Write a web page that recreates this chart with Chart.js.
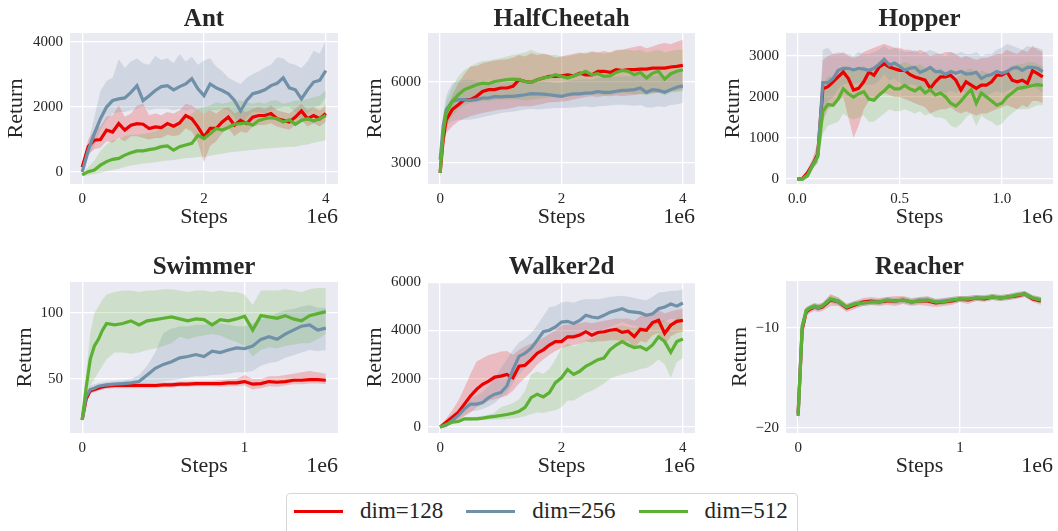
<!DOCTYPE html>
<html>
<head>
<meta charset="utf-8">
<script src="https://cdn.jsdelivr.net/npm/chart.js@4.4.1/dist/chart.umd.min.js"></script>
<style>
body { margin: 0; background: #fff; width: 1058px; height: 531px; position: relative; overflow: hidden;
       font-family: "Liberation Serif", "Times New Roman", serif; }
canvas { position: absolute; }
#legend { position: absolute; left: 286px; top: 493px; width: 512px; height: 50px; box-sizing: border-box;
          border: 1px solid #d6d6d6; border-radius: 4px; background: #fff; }
#legend .row { position: absolute; left: 7px; top: 5px; height: 24px; display: flex; align-items: center; }
#legend .item { display: flex; align-items: center; margin-right: 23px; }
#legend .swatch { width: 49px; height: 3px; margin-right: 17px; }
#legend .label { font-size: 23px; line-height: 24px; color: #262626; white-space: nowrap; }
</style>
</head>
<body>
<div id="legend"><div class="row" id="legendRow"></div></div>
<script>
/* =========================
   DATA
========================= */
const seriesNames = ['dim=128', 'dim=256', 'dim=512'];
const seriesColors = ['#ec0000', '#7090a8', '#5cb133'];
const bandColors = ['rgba(236,0,0,0.2)', 'rgba(112,144,168,0.22)', 'rgba(92,177,51,0.2)'];

// --- Ant ---
const antSteps = [0,0.1,0.2,0.3,0.4,0.5,0.6,0.7,0.8,0.9,1.0,1.1,1.2,1.3,1.4,1.5,1.6,1.7,1.8,1.9,2.0,2.1,2.2,2.3,2.4,2.5,2.6,2.7,2.8,2.9,3.0,3.1,3.2,3.3,3.4,3.5,3.6,3.7,3.8,3.9,4.0];
const antRed = [150,780,980,1000,1290,1230,1490,1290,1440,1490,1470,1340,1390,1370,1490,1410,1510,1740,1640,1390,1080,1340,1340,1540,1690,1440,1590,1490,1690,1740,1740,1800,1640,1590,1540,1690,1880,1640,1740,1640,1800];
const antRedHi = [250,1000,1300,1400,1700,1750,2050,1700,1800,2050,2100,1750,1800,1750,1850,1800,1900,2100,2050,1900,1800,1900,1800,1950,2000,1800,1900,1850,1950,2000,1950,2050,1900,1850,1800,1950,2100,1900,2000,1900,2050];
const antRedLo = [50,550,700,750,950,900,1050,950,1100,1100,1050,1000,1050,1050,1150,1100,1150,1350,1250,900,300,800,950,1200,1350,1100,1250,1200,1400,1450,1450,1500,1400,1350,1300,1450,1600,1400,1500,1400,1550];
const antBlue = [0,670,1180,1640,2000,2200,2250,2280,2450,2660,2200,2350,2510,2630,2660,2530,2630,2710,2870,2560,2350,2710,2590,2510,2410,2200,1880,2200,2410,2460,2530,2660,2730,2900,2590,2530,2250,2530,2770,2820,3120];
const antBlueHi = [100,900,1700,2500,2800,2900,3480,3200,3400,3500,3350,3300,3580,3450,3500,3350,3630,3400,3550,3300,3430,3500,3250,3100,2900,2800,2710,2900,3020,3100,3220,3300,3530,3500,3350,3300,3200,3400,3730,3650,4040];
const antBlueLo = [-100,450,800,1290,1600,1800,1850,1850,1900,1950,2000,1900,1950,1950,1950,1900,1950,1900,1950,1900,1800,1900,1900,1950,1900,1700,1390,1700,1850,1850,1800,1900,1950,2000,2000,1850,1590,1800,2000,2050,2300];
const antGreen = [-90,10,60,210,320,390,420,520,590,650,650,690,720,780,800,670,780,830,880,1130,1030,1180,1340,1290,1370,1470,1490,1510,1440,1590,1640,1670,1640,1540,1610,1470,1590,1640,1570,1640,1740];
const antGreenHi = [-50,150,350,650,850,980,1000,1100,1150,1150,1180,1200,1250,1350,1400,1390,1500,1650,1800,1950,2000,2050,2150,2100,2150,2200,2200,2150,2100,2150,2100,2200,2200,2100,2150,2200,2200,2250,2300,2350,2510];
const antGreenLo = [-130,-100,-60,-20,20,60,100,150,200,230,265,280,300,330,350,370,400,420,440,460,470,500,540,560,600,620,640,660,680,700,720,730,750,760,770,780,820,850,900,940,980];
const antXTicks = [0, 2, 4];
const antXLabels = ['0', '2', '4'];
const antYTicks = [0, 2000, 4000];
const antYLabels = ['0', '2000', '4000'];

// --- HalfCheetah ---
const hcSteps = [0,0.05,0.1,0.2,0.3,0.4,0.5,0.6,0.7,0.8,0.9,1.0,1.1,1.2,1.3,1.4,1.5,1.6,1.7,1.8,1.9,2.0,2.1,2.2,2.3,2.4,2.5,2.6,2.7,2.8,2.9,3.0,3.1,3.2,3.3,3.4,3.5,3.6,3.7,3.8,3.9,4.0];
const hcRed = [2630,3860,4600,4980,5160,5350,5350,5470,5650,5720,5720,5780,5780,5840,6090,6020,5990,6090,6150,6210,6210,6230,6270,6230,6330,6270,6270,6400,6400,6360,6460,6430,6460,6460,6480,6480,6520,6520,6520,6560,6580,6620];
const hcRedHi = [2800,4200,5000,5500,5960,6300,6580,6600,6700,6750,6800,6830,6850,6900,7000,6950,7070,7000,7050,7000,6900,6950,7000,7050,7100,7050,7140,7100,7150,7100,7200,7200,7250,7300,7350,7250,7320,7400,7450,7400,7500,7570];
const hcRedLo = [2450,3500,4100,4360,4550,4650,4730,4800,4850,4900,4950,4980,5000,5050,5100,5100,5100,5150,5200,5250,5250,5280,5300,5350,5400,5450,5470,5450,5480,5470,5500,5470,5500,5520,5550,5560,5590,5600,5620,5650,5680,5720];
const hcBlue = [3120,4360,4980,5280,5350,5350,5320,5350,5410,5410,5470,5450,5470,5470,5500,5530,5570,5560,5550,5530,5500,5470,5530,5560,5560,5590,5600,5650,5620,5620,5660,5690,5700,5720,5780,5620,5720,5690,5620,5720,5810,5860];
const hcBlueHi = [3300,4800,5500,5960,6050,6080,6090,6050,6000,5980,5970,5960,6000,6000,6050,6080,6090,6050,6030,6000,5970,5960,6030,6080,6090,6100,6090,6150,6150,6180,6200,6210,6220,6250,6300,6200,6210,6250,6200,6280,6350,6400];
const hcBlueLo = [2950,3900,4400,4550,4600,4600,4600,4650,4700,4750,4800,4850,4880,4900,4950,4980,5000,4980,5000,5020,5040,5040,5050,5060,5080,5100,5060,5100,5110,5130,5160,5160,5140,5120,5150,5060,5060,5100,5080,5150,5180,5220];
const hcGreen = [2630,4110,4850,5280,5530,5720,5810,5900,5960,5940,6020,6060,6090,6110,6090,6020,5990,6090,6150,6190,6270,6210,6150,6230,6310,6400,6270,6310,6210,6230,6360,6430,6400,6270,6360,6150,6330,6400,6110,6310,6400,6460];
const hcGreenHi = [2800,4500,5300,5800,6210,6450,6580,6700,6780,6800,6850,6890,6950,7000,7050,7100,7200,7100,7050,7000,7000,6950,6950,7000,7050,7100,7100,7100,7050,7100,7150,7200,7200,7150,7200,7100,7150,7200,7100,7150,7200,7200];
const hcGreenLo = [2450,3700,4400,4750,4980,5150,5220,5270,5300,5300,5330,5350,5350,5360,5350,5330,5350,5380,5400,5430,5450,5470,5450,5480,5500,5560,5530,5550,5500,5520,5560,5590,5580,5560,5580,5500,5580,5600,5500,5600,5630,5650];
const hcXTicks = [0, 2, 4];
const hcXLabels = ['0', '2', '4'];
const hcYTicks = [3000, 6000];
const hcYLabels = ['3000', '6000'];

// --- Hopper ---
const hopSteps = [0,0.025,0.05,0.075,0.1,0.125,0.15,0.175,0.2,0.225,0.25,0.275,0.3,0.325,0.35,0.375,0.4,0.425,0.45,0.475,0.5,0.525,0.55,0.575,0.6,0.625,0.65,0.675,0.7,0.725,0.75,0.775,0.8,0.825,0.85,0.875,0.9,0.925,0.95,0.975,1.0,1.025,1.05,1.075,1.1,1.125,1.15,1.175,1.2];
const hopRed = [0,10,150,350,600,2200,2250,2370,2490,2610,2450,2170,2210,2370,2610,2530,2730,2810,2730,2690,2650,2650,2550,2490,2450,2410,2210,2370,2490,2490,2530,2410,2170,2370,2290,2210,2290,2290,2370,2530,2530,2610,2410,2370,2410,2330,2640,2570,2490];
const hopRedHi = [0,30,250,500,900,2900,3000,3050,3050,3100,3000,2950,3000,3100,3150,3200,3250,3300,3250,3200,3200,3150,3150,3100,3150,3100,3000,3050,3050,3100,3100,3050,2950,3000,2950,2900,2950,2950,3000,3050,3050,3150,3100,3050,3150,3100,3250,3150,3100];
const hopRedLo = [0,0,80,250,400,1400,1700,1800,1900,2000,1500,1000,1300,1700,1900,1950,2000,2100,2050,2000,2000,1950,1900,1850,1800,1750,1600,1650,1700,1700,1750,1650,1600,1650,1600,1550,1600,1600,1650,1700,1750,1800,1750,1700,1800,1750,1900,1900,1850];
const hopBlue = [0,0,100,330,550,2350,2350,2450,2650,2700,2700,2660,2700,2680,2650,2700,2800,2920,2780,2830,2750,2650,2700,2720,2600,2650,2720,2620,2620,2550,2620,2580,2620,2560,2570,2600,2450,2520,2550,2620,2580,2620,2700,2720,2650,2720,2720,2700,2620];
const hopBlueHi = [0,20,200,450,800,3150,3200,3050,3100,3050,3050,3000,3100,3050,3050,3100,3150,3250,3150,3200,3150,3100,3100,3150,3050,3100,3150,3100,3050,3000,3100,3050,3100,3050,3050,3100,3000,3050,3050,3150,3200,3300,3250,3200,3150,3250,3200,3200,3150];
const hopBlueLo = [0,0,50,250,400,1600,1900,2000,2200,2300,2350,2300,2350,2300,2300,2300,2400,2550,2400,2450,2350,2250,2300,2300,2200,2200,2250,2150,2150,2100,2150,2100,2150,2100,2100,2100,2000,2050,2100,2150,2100,2150,2200,2250,2150,2200,2250,2200,2100];
const hopGreen = [0,0,80,330,550,1650,1820,1800,1950,2200,2080,2000,2080,2130,1950,1920,2050,2150,2280,2200,2200,2280,2200,2150,2230,2100,2180,2050,2100,2000,1850,1780,1900,2050,2180,1850,2100,2000,1900,1800,1850,2000,2100,2200,2230,2250,2280,2300,2280];
const hopGreenHi = [0,20,180,450,800,2300,2500,2500,2600,2750,2700,2650,2700,2750,2650,2650,2700,2800,2850,2800,2800,2850,2800,2750,2800,2700,2750,2650,2700,2600,2500,2450,2550,2650,2700,2500,2650,2600,2550,2450,2500,2650,2750,2800,2800,2850,2850,2800,2750];
const hopGreenLo = [0,0,30,250,400,1100,1300,1350,1400,1600,1500,1450,1500,1550,1400,1400,1500,1600,1700,1650,1650,1700,1650,1600,1650,1550,1600,1500,1500,1450,1300,1250,1350,1500,1600,1300,1550,1450,1400,1300,1350,1500,1600,1700,1700,1700,1750,1800,1800];
const hopXTicks = [0, 0.5, 1.0];
const hopXLabels = ['0.0', '0.5', '1.0'];
const hopYTicks = [0, 1000, 2000, 3000];
const hopYLabels = ['0', '1000', '2000', '3000'];

// --- Swimmer ---
const swimSteps = [0,0.025,0.05,0.075,0.1,0.125,0.15,0.2,0.25,0.3,0.35,0.4,0.45,0.5,0.55,0.6,0.65,0.7,0.75,0.8,0.85,0.9,0.95,1.0,1.05,1.1,1.15,1.2,1.25,1.3,1.35,1.4,1.45,1.5];
const swimRed = [19,35,41,42,43,44,44.5,45,45,45,45,45,45,45.5,45.5,46,46,46.5,46.5,46.5,46.5,47,47,48,46,46.5,48,47.5,48,49,49,49.5,49.5,49];
const swimRedHi = [21,38,43,44,45,46,46.5,47,47,47,47,47,47,47.5,47.5,48,48,48.5,48.5,48.5,49,49.5,50,53,50,50,52,52,53,54,55,56,55,54];
const swimRedLo = [17,32,39,40,41,42,42.5,43,43,43,43,43,43,43.5,43.5,44,44,44.5,44.5,44.5,44,44.5,44.5,45,42,43,44.5,44,45,46,46,46.5,46.5,46];
const swimBlue = [19,37,42,43,44.5,45,45.5,46,46.5,47,48,53,58,61,63,66,67,68.5,67,71,70,72,73.5,73,75,80,82,80,84,87,90,91,87,88.5];
const swimBlueHi = [21,40,45,46,47,47.5,48,48.5,49,50,53,60,70,85,88,90,90,91,91,92,92,91,90,90,92,95,97,100,102,103,105,106,104,104];
const swimBlueLo = [17,34,39,40,42,43,43.5,44,44.5,45,45,46,47,48,49,50,51,52,52,53,53,54,55,55,56,60,62,63,66,68,70,72,71,72];
const swimGreen = [19,44,65,75,80,87,92,91,92,94,91,94,95,96,97,95.5,94,95.5,95,91,95,94,95.5,97.5,87,98,97,96,98,95.5,94,98,99.5,101];
const swimGreenHi = [21,55,85,100,105,110,114,116,117,117,116,117,117,118,118,117,116,117,117,116,117,116,116,114,106,117,117,117,118,117,116,118,119,119];
const swimGreenLo = [17,35,45,50,55,60,65,70,70,69,70,72,73,75,77,82,80,82,83,84,83,80,78,75,67,72,74,73,75,76,77,77,80,84];
const swimXTicks = [0, 1];
const swimXLabels = ['0', '1'];
const swimYTicks = [50, 100];
const swimYLabels = ['50', '100'];

// --- Walker2d ---
const walkSteps = [0,0.1,0.2,0.3,0.4,0.5,0.6,0.7,0.8,0.9,1.0,1.1,1.2,1.3,1.4,1.5,1.6,1.7,1.8,1.9,2.0,2.1,2.2,2.3,2.4,2.5,2.6,2.7,2.8,2.9,3.0,3.1,3.2,3.3,3.4,3.5,3.6,3.7,3.8,3.9,4.0];
const walkRed = [0,200,410,610,950,1290,1560,1770,1900,2070,2110,2180,2040,2520,2560,2790,3060,3200,3400,3540,3540,3740,3740,3810,3950,3810,3920,3950,4010,4050,3920,3970,3740,4050,4010,4330,4420,3880,4220,4380,4420];
const walkRedHi = [50,350,700,1100,1630,2200,2720,2850,2990,3050,3130,3150,3000,3200,3350,3450,3550,3700,3850,4000,4220,4250,4250,4300,4350,4300,4350,4400,4450,4500,4490,4500,4400,4600,4650,4760,4850,4700,4800,4850,4900];
const walkRedLo = [-50,100,200,300,450,600,820,950,1090,1150,1220,1300,1500,1800,2040,2300,2590,2800,3000,3150,3270,3350,3400,3450,3550,3500,3550,3550,3600,3600,3550,3550,3300,3550,3500,3800,3900,3400,3750,3900,3950];
const walkBlue = [0,70,270,480,750,950,950,1020,1220,1360,1430,1700,2380,2930,3060,3270,3600,3950,4010,4150,4350,4380,4290,4420,4630,4560,4520,4630,4760,4830,4900,4790,4760,4730,4630,4690,4900,4970,5100,5010,5140];
const walkBlueHi = [50,150,400,700,1000,1200,1300,1450,1700,2000,2450,2800,3200,3500,3670,3900,4220,4600,4970,5000,5170,5200,5150,5250,5310,5300,5300,5350,5400,5420,5440,5400,5350,5300,5250,5400,5580,5600,5650,5650,5710];
const walkBlueLo = [-50,0,150,300,500,650,680,750,850,1000,1220,1400,1800,2200,2450,2700,2990,3200,3400,3500,3540,3650,3700,3800,3950,3950,3950,4050,4150,4250,4350,4250,4200,4150,4050,4150,4300,4350,4500,4450,4630];
const walkGreen = [0,110,200,230,340,340,340,370,410,440,480,520,570,650,820,1220,1360,1250,1430,1840,2040,2380,2180,2310,2520,2650,2790,2860,3200,3400,3540,3400,3290,3330,3200,3400,3740,3540,3100,3540,3650];
const walkGreenHi = [30,150,250,300,400,420,430,470,520,600,820,900,1000,1150,1500,2180,2300,2200,2400,2800,3270,3450,3350,3450,3600,3670,3800,3900,4000,4150,4220,4150,4100,4150,4100,4250,4450,4400,4300,4500,4630];
const walkGreenLo = [-30,60,150,170,250,260,270,280,300,310,320,330,360,400,450,540,600,580,650,700,820,1100,1100,1250,1400,1500,1650,1800,2000,2100,2180,2250,2300,2400,2450,2590,2800,2600,2040,2700,2860];
const walkXTicks = [0, 2, 4];
const walkXLabels = ['0', '2', '4'];
const walkYTicks = [0, 2000, 4000, 6000];
const walkYLabels = ['0', '2000', '4000', '6000'];

// --- Reacher ---
const reachSteps = [0,0.025,0.05,0.075,0.1,0.125,0.15,0.2,0.25,0.3,0.35,0.4,0.45,0.5,0.55,0.6,0.65,0.7,0.75,0.8,0.85,0.9,0.95,1.0,1.05,1.1,1.15,1.2,1.25,1.3,1.35,1.4,1.45,1.5];
const reachRed = [-18.5,-10.2,-8.4,-8.1,-7.9,-8.0,-7.9,-7.2,-7.4,-8.0,-7.7,-7.4,-7.3,-7.4,-7.3,-7.3,-7.2,-7.4,-7.3,-7.3,-7.5,-7.4,-7.3,-7.1,-7.2,-7.0,-7.1,-6.9,-7.0,-6.9,-6.8,-6.6,-7.1,-7.3];
const reachRedHi = [-17.5,-9.5,-8.0,-7.7,-7.5,-7.6,-7.5,-6.6,-7.0,-7.6,-7.3,-7.0,-6.9,-7.0,-6.9,-6.8,-6.8,-7.0,-6.9,-6.8,-7.1,-7.0,-6.9,-6.8,-6.8,-6.7,-6.8,-6.6,-6.7,-6.6,-6.5,-6.3,-6.8,-6.9];
const reachRedLo = [-19.5,-11.0,-8.8,-8.5,-8.3,-8.4,-8.3,-7.8,-7.8,-8.4,-8.1,-7.8,-7.7,-7.8,-7.7,-7.8,-7.6,-7.8,-7.7,-7.8,-7.9,-7.8,-7.7,-7.4,-7.6,-7.3,-7.4,-7.2,-7.3,-7.2,-7.1,-6.9,-7.4,-7.7];
const reachBlue = [-18.7,-10.0,-8.3,-8.0,-7.9,-8.0,-7.8,-7.1,-7.4,-7.9,-7.6,-7.5,-7.4,-7.4,-7.2,-7.3,-7.2,-7.4,-7.2,-7.2,-7.4,-7.3,-7.2,-7.1,-7.1,-7.0,-7.0,-6.9,-7.0,-6.9,-6.7,-6.6,-7.0,-7.2];
const reachBlueHi = [-17.8,-9.4,-7.9,-7.7,-7.6,-7.7,-7.5,-6.8,-7.1,-7.6,-7.3,-7.2,-7.1,-7.1,-6.9,-7.0,-6.9,-7.1,-6.9,-6.9,-7.1,-7.0,-6.9,-6.8,-6.8,-6.7,-6.7,-6.6,-6.7,-6.6,-6.4,-6.3,-6.7,-6.9];
const reachBlueLo = [-19.6,-10.6,-8.7,-8.3,-8.2,-8.3,-8.1,-7.4,-7.7,-8.2,-7.9,-7.8,-7.7,-7.7,-7.5,-7.6,-7.5,-7.7,-7.5,-7.5,-7.7,-7.6,-7.5,-7.4,-7.4,-7.3,-7.3,-7.2,-7.3,-7.2,-7.0,-6.9,-7.3,-7.5];
const reachGreen = [-18.8,-9.8,-8.2,-8.0,-7.8,-7.9,-7.8,-7.1,-7.3,-7.9,-7.6,-7.5,-7.4,-7.4,-7.2,-7.3,-7.2,-7.4,-7.3,-7.2,-7.4,-7.4,-7.2,-7.1,-7.1,-7.0,-7.0,-6.9,-7.0,-6.9,-6.7,-6.6,-7.0,-7.2];
const reachGreenHi = [-18.0,-9.2,-7.9,-7.7,-7.5,-7.6,-7.5,-6.7,-6.9,-7.6,-7.3,-7.2,-7.1,-7.1,-6.9,-7.0,-6.9,-7.1,-7.0,-6.9,-7.1,-7.1,-6.9,-6.8,-6.8,-6.7,-6.7,-6.6,-6.7,-6.6,-6.4,-6.3,-6.7,-6.9];
const reachGreenLo = [-19.8,-10.4,-8.5,-8.3,-8.1,-8.2,-8.1,-7.5,-7.7,-8.2,-7.9,-7.8,-7.7,-7.7,-7.5,-7.6,-7.5,-7.7,-7.6,-7.5,-7.7,-7.7,-7.5,-7.4,-7.4,-7.3,-7.3,-7.2,-7.3,-7.2,-7.0,-6.9,-7.3,-7.5];
const reachXTicks = [0, 1];
const reachXLabels = ['0', '1'];
const reachYTicks = [-20, -10];
const reachYLabels = ['\u221220', '\u221210'];

/* =========================
   LAYOUT + STYLE
========================= */
const FONT = '"Liberation Serif", "Times New Roman", serif';
const INK = '#262626';
Chart.defaults.font.family = FONT;
Chart.defaults.color = INK;
Chart.defaults.animation = false;

// row dependent text positions (canvas px)
const rowText = [
    { titleY: 20, expY: 217, stepsPad: 8 },
    { titleY: 32, expY: 230, stepsPad: 3 }
];

const panels = [
    { title: 'Ant', row: 0, box: [0, 0, 350, 236], area: { left: 70, top: 33, right: 12, bottom: 52 }, retPad: 5.7,
      steps: antSteps, series: [[antRed, antRedLo, antRedHi], [antBlue, antBlueLo, antBlueHi], [antGreen, antGreenLo, antGreenHi]],
      x: [-0.2, 4.2], y: [-370, 4280], xTicks: antXTicks, xLabels: antXLabels, yTicks: antYTicks, yLabels: antYLabels },
    { title: 'HalfCheetah', row: 0, box: [352, 0, 353, 236], area: { left: 76, top: 33, right: 10, bottom: 52 }, retPad: 12,
      steps: hcSteps, series: [[hcRed, hcRedLo, hcRedHi], [hcBlue, hcBlueLo, hcBlueHi], [hcGreen, hcGreenLo, hcGreenHi]],
      x: [-0.2, 4.2], y: [2220, 7820], xTicks: hcXTicks, xLabels: hcXLabels, yTicks: hcYTicks, yLabels: hcYLabels },
    { title: 'Hopper', row: 0, box: [707, 0, 351, 236], area: { left: 79, top: 33, right: 5, bottom: 52 }, retPad: 15.3,
      steps: hopSteps, series: [[hopRed, hopRedLo, hopRedHi], [hopBlue, hopBlueLo, hopBlueHi], [hopGreen, hopGreenLo, hopGreenHi]],
      x: [-0.055, 1.25], y: [-120, 3560], xTicks: hopXTicks, xLabels: hopXLabels, yTicks: hopYTicks, yLabels: hopYLabels },
    { title: 'Swimmer', row: 1, box: [0, 236, 350, 244], area: { left: 70, top: 46, right: 12, bottom: 47 }, retPad: 14,
      steps: swimSteps, series: [[swimRed, swimRedLo, swimRedHi], [swimBlue, swimBlueLo, swimBlueHi], [swimGreen, swimGreenLo, swimGreenHi]],
      x: [-0.075, 1.575], y: [9, 123.5], xTicks: swimXTicks, xLabels: swimXLabels, yTicks: swimYTicks, yLabels: swimYLabels },
    { title: 'Walker2d', row: 1, box: [352, 236, 353, 244], area: { left: 76, top: 46, right: 10, bottom: 47 }, retPad: 12,
      steps: walkSteps, series: [[walkRed, walkRedLo, walkRedHi], [walkBlue, walkBlueLo, walkBlueHi], [walkGreen, walkGreenLo, walkGreenHi]],
      x: [-0.2, 4.2], y: [-247, 6010], xTicks: walkXTicks, xLabels: walkXLabels, yTicks: walkYTicks, yLabels: walkYLabels },
    { title: 'Reacher', row: 1, box: [707, 236, 351, 244], area: { left: 79, top: 45, right: 5, bottom: 47 }, retPad: 22,
      steps: reachSteps, series: [[reachRed, reachRedLo, reachRedHi], [reachBlue, reachBlueLo, reachBlueHi], [reachGreen, reachGreenLo, reachGreenHi]],
      x: [-0.075, 1.575], y: [-20.5, -5.3], xTicks: reachXTicks, xLabels: reachXLabels, yTicks: reachYTicks, yLabels: reachYLabels }
];

/* =========================
   PLUGINS
========================= */
const plotBg = {
    id: 'plotBg',
    beforeDraw(chart) {
        const { ctx, chartArea: a } = chart;
        ctx.save();
        ctx.fillStyle = '#eaeaf2';
        ctx.fillRect(a.left, a.top, a.right - a.left, a.bottom - a.top);
        ctx.restore();
    }
};

// panel title (centred on the plot area) and the "1e6" offset text
const panelText = {
    id: 'panelText',
    afterDraw(chart, args, opts) {
        const { ctx, chartArea: a } = chart;
        ctx.save();
        ctx.fillStyle = INK;
        ctx.textBaseline = 'middle';
        ctx.textAlign = 'center';
        ctx.font = 'bold 25px ' + FONT;
        ctx.fillText(opts.title, (a.left + a.right) / 2, opts.titleY);
        ctx.textAlign = 'right';
        ctx.font = '22px ' + FONT;
        ctx.fillText('1e6', a.right, opts.expY);
        ctx.restore();
    }
};

/* =========================
   CHARTS
========================= */
function makePanel(p) {
    const [bx, by, bw, bh] = p.box;
    const canvas = document.createElement('canvas');
    canvas.width = bw;
    canvas.height = bh;
    canvas.style.left = bx + 'px';
    canvas.style.top = by + 'px';
    document.body.appendChild(canvas);

    const rt = rowText[p.row];
    const pts = arr => p.steps.map((s, i) => ({ x: s, y: arr[i] }));
    const bands = [];
    const lines = [];
    p.series.forEach(([mean, lo, hi], k) => {
        // lower order = drawn later; bands all sit under all lines (like matplotlib zorder)
        bands.push({ data: pts(lo), borderWidth: 0, borderColor: 'transparent', pointRadius: 0, fill: false,
                     order: 20 - 2 * k });
        bands.push({ data: pts(hi), borderWidth: 0, borderColor: 'transparent', pointRadius: 0,
                     fill: '-1', backgroundColor: bandColors[k], order: 19 - 2 * k });
        lines.push({ label: seriesNames[k], data: pts(mean), borderColor: seriesColors[k], borderWidth: 3.2,
                     pointRadius: 0, fill: false, tension: 0, order: 5 - k });
    });

    const tickFont = { family: FONT, size: 15 };
    const gridStyle = { color: '#ffffff', lineWidth: 1.3, drawTicks: false };

    new Chart(canvas.getContext('2d'), {
        type: 'line',
        data: { datasets: bands.concat(lines) },
        options: {
            responsive: false,
            animation: false,
            events: [],
            layout: { padding: { left: 0, top: p.area.top, right: p.area.right, bottom: 0 } },
            plugins: {
                legend: { display: false },
                tooltip: { enabled: false },
                panelText: { title: p.title, titleY: rt.titleY, expY: rt.expY }
            },
            scales: {
                x: {
                    type: 'linear', min: p.x[0], max: p.x[1],
                    afterFit: s => { s.height = p.area.bottom; },
                    afterBuildTicks: s => { s.ticks = p.xTicks.map(v => ({ value: v })); },
                    ticks: { font: tickFont, color: INK, padding: 6, autoSkip: false, maxRotation: 0,
                             callback: (v, i) => p.xLabels[i] },
                    grid: gridStyle,
                    border: { display: false },
                    title: { display: true, text: 'Steps', color: INK,
                             font: { family: FONT, size: 22, lineHeight: 1 },
                             padding: { top: 0, bottom: rt.stepsPad } }
                },
                y: {
                    min: p.y[0], max: p.y[1],
                    afterFit: s => { s.width = p.area.left; },
                    afterBuildTicks: s => { s.ticks = p.yTicks.map(v => ({ value: v })); },
                    ticks: { font: tickFont, color: INK, padding: 7, autoSkip: false,
                             callback: (v, i) => p.yLabels[i] },
                    grid: gridStyle,
                    border: { display: false },
                    title: { display: true, text: 'Return', color: INK,
                             font: { family: FONT, size: 22, lineHeight: 1 },
                             padding: { top: p.retPad, bottom: 0 } }
                }
            }
        },
        plugins: [plotBg, panelText]
    });
}

panels.forEach(makePanel);

/* =========================
   LEGEND
========================= */
const legendRow = document.getElementById('legendRow');
seriesNames.forEach((name, k) => {
    const item = document.createElement('div');
    item.className = 'item';
    item.innerHTML = `<span class="swatch" style="background:${seriesColors[k]}"></span><span class="label">${name}</span>`;
    legendRow.appendChild(item);
});
</script>
</body>
</html>
